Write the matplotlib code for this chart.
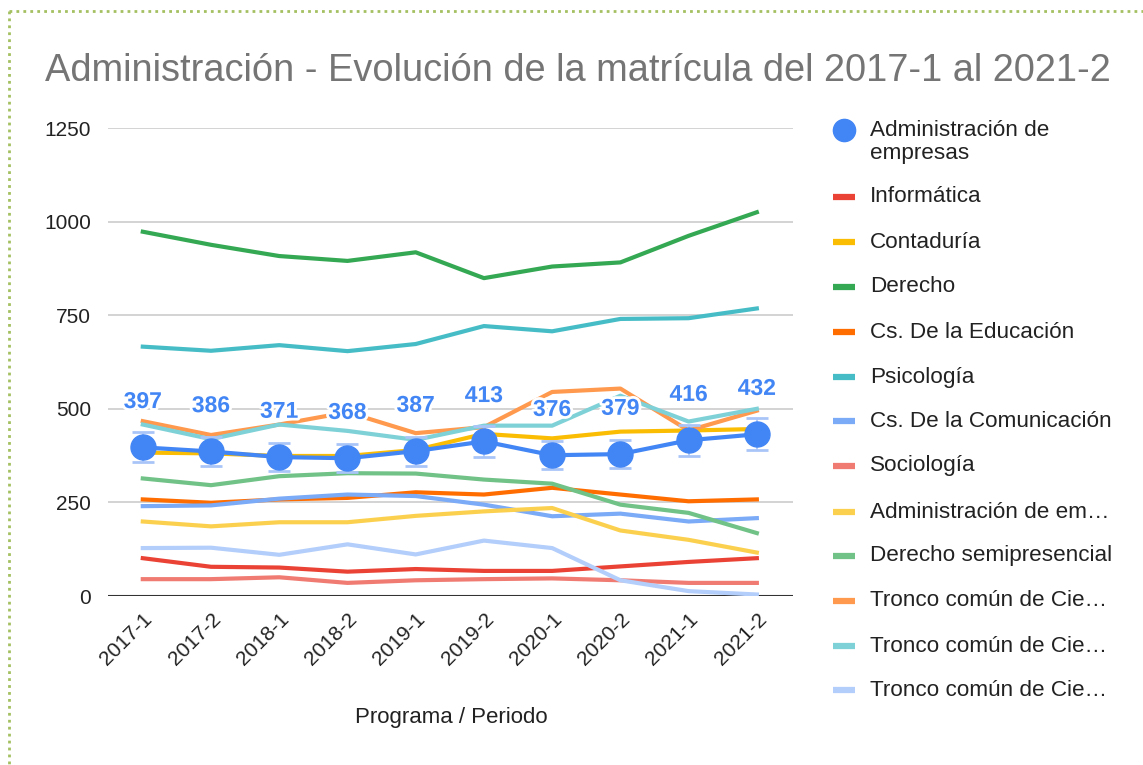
import matplotlib
matplotlib.use("Agg")
import matplotlib.pyplot as plt
import matplotlib.patheffects as pe
from matplotlib.lines import Line2D
import numpy as np

plt.rcParams['font.family'] = ['Liberation Sans', 'DejaVu Sans']

periods = ["2017-1", "2017-2", "2018-1", "2018-2", "2019-1",
           "2019-2", "2020-1", "2020-2", "2021-1", "2021-2"]

admin_empresas = [397, 386, 371, 368, 387, 413, 376, 379, 416, 432]
informatica = [101, 78, 76, 65, 72, 67, 67, 79, 91, 101]
contaduria = [383, 381, 374, 374, 390, 433, 421, 439, 442, 446]
derecho = [973, 938, 908, 895, 918, 849, 880, 891, 962, 1025]
cs_educacion = [258, 249, 258, 262, 277, 271, 289, 271, 253, 258]
psicologia = [666, 655, 670, 654, 673, 721, 707, 740, 742, 768]
cs_comunicacion = [240, 242, 260, 271, 267, 244, 213, 220, 199, 208]
sociologia = [45, 45, 50, 35, 42, 45, 47, 42, 35, 35]
admin_em_semi = [199, 186, 197, 197, 214, 226, 235, 175, 150, 116]
derecho_semi = [314, 296, 320, 328, 327, 311, 300, 244, 222, 168]
tronco_1 = [467, 430, 458, 491, 435, 451, 545, 554, 442, 495]
tronco_2 = [458, 419, 458, 441, 417, 455, 455, 535, 466, 500]
tronco_3 = [128, 129, 110, 138, 111, 148, 128, 42, 13, 4]

error_frac = 0.10

series_names = ["Informática", "Contaduría", "Derecho", "Cs. De la Educación",
                "Psicología", "Cs. De la Comunicación", "Sociología",
                "Administración de em…", "Derecho semipresencial",
                "Tronco común de Cie…", "Tronco común de Cie…", "Tronco común de Cie…"]
series_values = [informatica, contaduria, derecho, cs_educacion, psicologia,
                 cs_comunicacion, sociologia, admin_em_semi, derecho_semi,
                 tronco_1, tronco_2, tronco_3]
series_colors = ["#ea4335", "#fbbc04", "#34a853", "#ff6d01", "#46bdc6",
                 "#7baaf7", "#f07b72", "#fcd04f", "#71c287", "#ff994d",
                 "#7ed1d7", "#b3cefb"]
main_color = "#4285f4"

W, H = 1143, 765
fig = plt.figure(figsize=(W / 100, H / 100), dpi=100)
ax = fig.add_axes([108 / W, 1 - 596 / H, (793 - 108) / W, (596 - 128) / H])

x = np.arange(len(periods))

for vals, col in zip(series_values, series_colors):
    ax.plot(x, vals, color=col, lw=3, solid_joinstyle='round', zorder=3)

main = np.array(admin_empresas, dtype=float)
ax.errorbar(x, main, yerr=main * error_frac, fmt='none', ecolor='#a9c5f8',
            elinewidth=1.2, capsize=8, capthick=2, zorder=4)
ax.plot(x, main, color=main_color, lw=3, marker='o', markersize=18, zorder=5)

for xi, v in zip(x, admin_empresas):
    ax.annotate(str(v), (xi, v), xytext=(0, 33), textcoords='offset points',
                ha='center', va='center', fontsize=16.5, fontweight='bold',
                color=main_color, zorder=6,
                path_effects=[pe.withStroke(linewidth=4, foreground='white')])

ax.set_xlim(-0.51, 9.53)
ax.set_ylim(0, 1250)
ax.set_yticks([0, 250, 500, 750, 1000, 1250])
ax.set_xticks(x)
ax.set_xticklabels(periods, rotation=45, ha='right', rotation_mode='anchor',
                   fontsize=15, color='#222222')
ax.tick_params(axis='y', labelsize=15, labelcolor='#222222', length=0, pad=12)
ax.tick_params(axis='x', length=0, pad=10)
ax.grid(axis='y', color='#cccccc', lw=1.2, zorder=0)
ax.set_axisbelow(True)
for s in ax.spines.values():
    s.set_visible(False)
ax.axhline(0, color='#333333', lw=1.5, zorder=2)

ax.set_xlabel("Programa / Periodo", fontsize=16, color='#222222', labelpad=0)
ax.xaxis.label.set_va('center')
ax.xaxis.set_label_coords(451 / W, 1 - 718 / H, transform=fig.transFigure)

fig.text(45 / W, 1 - 71 / H,
         "Administración - Evolución de la matrícula del 2017-1 al 2021-2",
         fontsize=27.4, color='#757575', ha='left', va='center')

# legend
leg_y = [130, 197, 242, 287, 332, 377, 421, 466, 512, 556, 601, 646, 690]
fig.add_artist(Line2D([844 / W], [1 - leg_y[0] / H], marker='o', markersize=16,
                      color=main_color, transform=fig.transFigure))
fig.text(870 / W, 1 - leg_y[0] / H, "Administración de", fontsize=16.2,
         color='#222222', ha='left', va='center')
fig.text(870 / W, 1 - 154 / H, "empresas", fontsize=16.2,
         color='#222222', ha='left', va='center')
for yy, name, col in zip(leg_y[1:], series_names, series_colors):
    fig.add_artist(Line2D([833 / W, 855 / W], [1 - yy / H, 1 - yy / H], lw=4.5,
                          color=col, solid_capstyle='butt',
                          transform=fig.transFigure))
    fig.text(870 / W, 1 - yy / H, name, fontsize=16.2, color='#222222',
             ha='left', va='center')

# dotted border
fig.add_artist(Line2D([9 / W, 1.0], [1 - 11 / H, 1 - 11 / H], lw=2,
                      color='#a4c060', linestyle=(0, (1, 1.5)),
                      transform=fig.transFigure))
fig.add_artist(Line2D([9 / W, 9 / W], [1 - 11 / H, 0], lw=2,
                      color='#a4c060', linestyle=(0, (1, 1.5)),
                      transform=fig.transFigure))

fig.savefig("out.png", dpi=100, facecolor='white')
